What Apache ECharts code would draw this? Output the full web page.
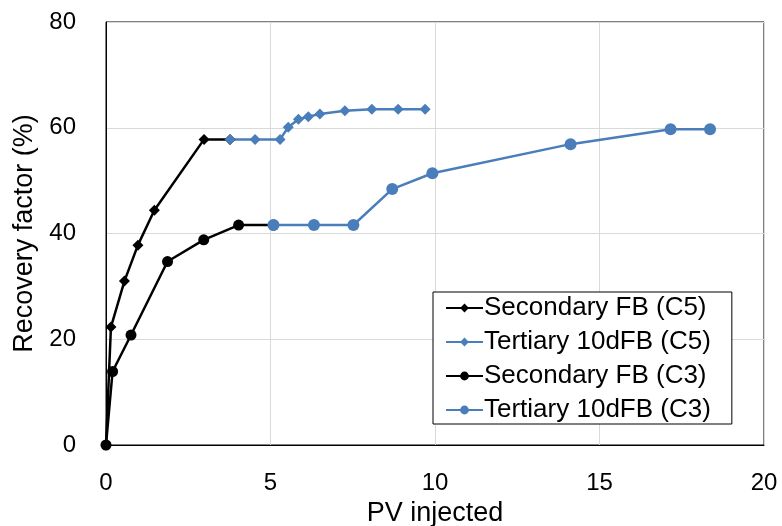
<!DOCTYPE html>
<html>
<head>
<meta charset="utf-8">
<script src="https://cdn.jsdelivr.net/npm/echarts@6/dist/echarts.min.js"></script>
<style>html,body{margin:0;padding:0;background:#fff}#c{width:782px;height:526px}</style>
</head>
<body>
<div id="c"></div>
<script>
// Data
const seriesNames = ["Secondary FB (C5)", "Tertiary 10dFB (C5)", "Secondary FB (C3)", "Tertiary 10dFB (C3)"];
const secC5_x = [0, 0.15, 0.56, 0.97, 1.47, 2.98, 3.77];
const secC5_y = [0, 22.3, 31.0, 37.8, 44.4, 57.8, 57.8];
const terC5_x = [3.77, 4.53, 5.29, 5.54, 5.85, 6.15, 6.50, 7.26, 8.08, 8.88, 9.70];
const terC5_y = [57.8, 57.8, 57.8, 60.1, 61.6, 62.1, 62.6, 63.2, 63.5, 63.5, 63.5];
const secC3_x = [0, 0.20, 0.76, 1.87, 2.97, 4.03, 5.09];
const secC3_y = [0, 13.9, 20.8, 34.7, 38.8, 41.6, 41.6];
const terC3_x = [5.09, 6.32, 7.52, 8.70, 9.92, 14.12, 17.16, 18.36];
const terC3_y = [41.6, 41.6, 41.6, 48.4, 51.4, 56.9, 59.7, 59.7];
const xTicks = [0, 5, 10, 15, 20];
const yTicks = [0, 20, 40, 60, 80];

const pairs = (xs, ys) => xs.map((x, i) => [x, ys[i]]);
const BLUE = '#4a7ebb';
const FONT = 'Liberation Sans';

const chart = echarts.init(document.getElementById('c'), null, {renderer: 'canvas'});
function mk(name, data, color, symbol, size) {
  return {
    name, type: 'line', data,
    symbol, symbolSize: size,
    showAllSymbol: true,
    lineStyle: {color, width: 2.5},
    itemStyle: {color},
    animation: false
  };
}
chart.setOption({
  animation: false,
  textStyle: {fontFamily: FONT},
  grid: {left: 106, right: 18, top: 22, bottom: 81, show: true, borderColor: '#000', borderWidth: 1,
         containLabel: false, outerBoundsMode: 'none'},
  xAxis: {
    type: 'value', min: xTicks[0], max: xTicks[xTicks.length - 1], interval: 5,
    name: 'PV injected', nameLocation: 'middle', nameGap: 55,
    nameTextStyle: {fontSize: 27, color: '#000', fontFamily: FONT},
    axisLine: {show: true, lineStyle: {color: '#000', width: 1}},
    axisTick: {show: false},
    axisLabel: {fontSize: 24, color: '#000', margin: 26, fontFamily: FONT},
    splitLine: {show: true, lineStyle: {color: '#d9d9d9', width: 1}}
  },
  yAxis: {
    type: 'value', min: yTicks[0], max: yTicks[yTicks.length - 1], interval: 20,
    name: 'Recovery factor (%)', nameLocation: 'middle', nameGap: 66,
    nameTextStyle: {fontSize: 27, color: '#000', fontFamily: FONT},
    axisLine: {show: true, lineStyle: {color: '#000', width: 1}},
    axisTick: {show: false},
    axisLabel: {fontSize: 24, color: '#000', margin: 30, fontFamily: FONT},
    splitLine: {show: true, lineStyle: {color: '#d9d9d9', width: 1}}
  },
  legend: {
    orient: 'vertical', left: 433, top: 292,
    backgroundColor: '#fff',
    borderColor: '#000', borderWidth: 1, borderRadius: 0,
    padding: [3, 21, 1, 12],
    itemWidth: 37, itemHeight: 11, itemGap: 8,
    textStyle: {fontSize: 26, color: '#000', fontFamily: FONT, padding: [0, 0, 0, -4]},
    data: seriesNames
  },
  series: [
    mk(seriesNames[0], pairs(secC5_x, secC5_y), '#000', 'diamond', 11),
    mk(seriesNames[2], pairs(secC3_x, secC3_y), '#000', 'circle', 11),
    mk(seriesNames[1], pairs(terC5_x, terC5_y), BLUE, 'diamond', 11),
    mk(seriesNames[3], pairs(terC3_x, terC3_y), BLUE, 'circle', 12)
  ]
});
</script>
</body>
</html>
